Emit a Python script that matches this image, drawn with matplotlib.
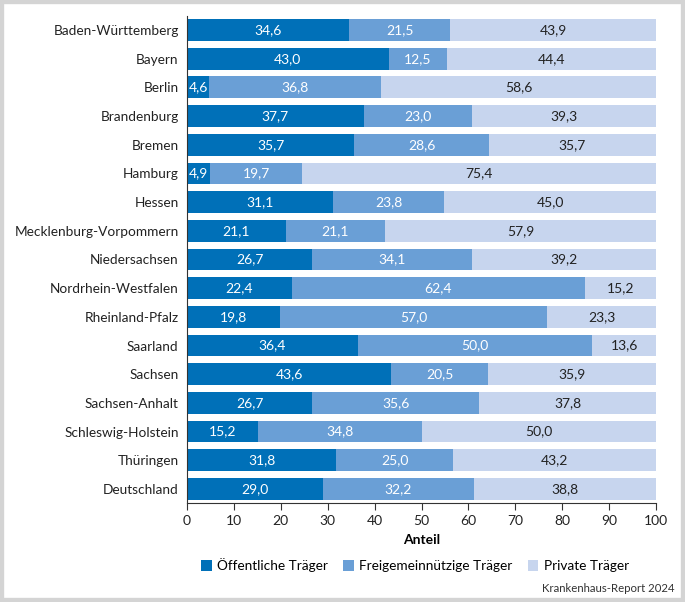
import matplotlib.pyplot as plt
from matplotlib.patches import Rectangle

plt.rcParams['font.family'] = ['Lato', 'DejaVu Sans']

laender = ["Baden-Württemberg", "Bayern", "Berlin", "Brandenburg", "Bremen", "Hamburg",
           "Hessen", "Mecklenburg-Vorpommern", "Niedersachsen", "Nordrhein-Westfalen",
           "Rheinland-Pfalz", "Saarland", "Sachsen", "Sachsen-Anhalt", "Schleswig-Holstein",
           "Thüringen", "Deutschland"]
oeffentlich = [34.6, 43.0, 4.6, 37.7, 35.7, 4.9, 31.1, 21.1, 26.7, 22.4, 19.8, 36.4, 43.6, 26.7, 15.2, 31.8, 29.0]
freigemein = [21.5, 12.5, 36.8, 23.0, 28.6, 19.7, 23.8, 21.1, 34.1, 62.4, 57.0, 50.0, 20.5, 35.6, 34.8, 25.0, 32.2]
privat = [43.9, 44.4, 58.6, 39.3, 35.7, 75.4, 45.0, 57.9, 39.2, 15.2, 23.3, 13.6, 35.9, 37.8, 50.0, 43.2, 38.8]

farben = ["#0070b8", "#6a9fd6", "#c7d5ee"]
namen = ["Öffentliche Träger", "Freigemeinnützige Träger", "Private Träger"]

fig = plt.figure(figsize=(6.85, 6.02), dpi=100)
fig.patches.append(Rectangle((0, 0), 1, 1, transform=fig.transFigure,
                             facecolor="white", edgecolor="#d4d4d4", linewidth=6, zorder=-1))
ax = fig.add_axes([0.273, 0.164, 0.6847, 0.81])

y = list(range(len(laender)))
links = [0] * len(laender)
for werte, farbe, name, tfarbe in zip([oeffentlich, freigemein, privat], farben, namen,
                                       ["white", "white", "#222222"]):
    bars = ax.barh(y, werte, left=links, height=0.76, color=farbe, label=name)
    for i, w in enumerate(werte):
        txt = f"{w:.1f}".replace(".", ",")
        if w < 8:
            ax.text(links[i] + 0.4, i, txt, ha="left", va="center", color=tfarbe, fontsize=10)
        else:
            ax.text(links[i] + w / 2, i, txt, ha="center", va="center", color=tfarbe, fontsize=10)
    links = [l + w for l, w in zip(links, werte)]

ax.set_ylim(len(laender) - 0.5, -0.5)
ax.set_xlim(0, 100)
ax.set_yticks(y)
ax.set_yticklabels(laender, fontsize=9.8, color="#222222")
ax.set_xticks(range(0, 101, 10))
ax.tick_params(axis="x", labelsize=10, length=5, color="#333333", labelcolor="#222222")
ax.tick_params(axis="y", length=0, pad=6)
ax.spines["top"].set_visible(False)
ax.spines["right"].set_visible(False)
ax.spines["left"].set_color("#333333")
ax.spines["bottom"].set_color("#333333")
ax.set_xlabel("Anteil", fontsize=10, fontweight="bold", labelpad=5)

ax.legend(loc="center", bbox_to_anchor=(0.486, -0.127), ncol=3, frameon=False,
          fontsize=9.8, handlelength=0.8, handleheight=0.8, handletextpad=0.4, columnspacing=1.1)
fig.text(0.985, 0.013, "Krankenhaus-Report 2024", ha="right", va="bottom", fontsize=8.2, color="#333333")

fig.savefig("out.png", dpi=100)
